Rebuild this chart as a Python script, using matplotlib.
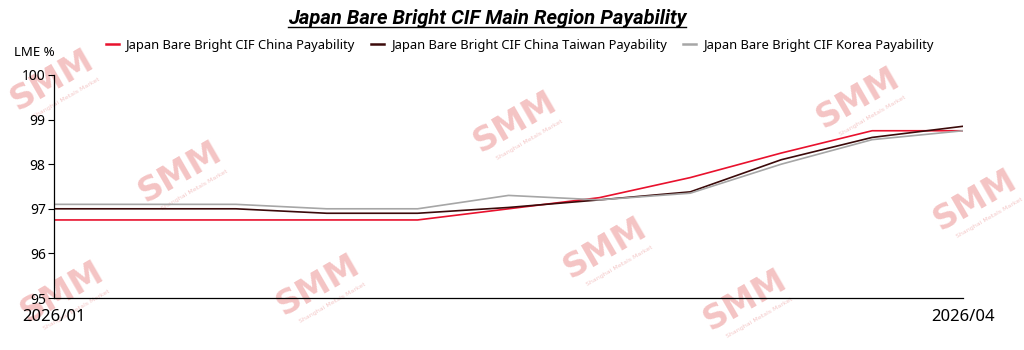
import numpy as np
import matplotlib
matplotlib.use("Agg")
import matplotlib.pyplot as plt
from matplotlib.lines import Line2D

# data (weekly points, first and last labelled)
x_idx = list(range(11))
tick_pos = [0, 10]
tick_labels = ["2026/01", "2026/04"]

china = [96.75, 96.75, 96.75, 96.75, 96.75, 97.0, 97.25, 97.7, 98.25, 98.75, 98.75]
taiwan = [97.0, 97.0, 97.0, 96.9, 96.9, 97.03, 97.2, 97.38, 98.1, 98.6, 98.85]
korea = [97.1, 97.1, 97.1, 97.0, 97.0, 97.3, 97.2, 97.35, 98.0, 98.55, 98.75]

names = ["Japan Bare Bright CIF China Payability",
         "Japan Bare Bright CIF China Taiwan Payability",
         "Japan Bare Bright CIF Korea Payability"]
colors = ["#e8112d", "#3b0a0a", "#a6a6a6"]

plt.rcParams['font.family'] = ['Noto Sans', 'DejaVu Sans']

fig = plt.figure(figsize=(10.24, 3.5), dpi=100)
ax = fig.add_axes([54/1024, 52/350, 909/1024, 223/350])
ax.set_facecolor('none')

for series, name, c in zip([china, taiwan, korea], names, colors):
    ax.plot(x_idx, series, color=c, lw=1.2, label=name)

ax.set_xlim(0, 10)
ax.set_ylim(95, 100)
ax.set_yticks([95, 96, 97, 98, 99, 100])
ax.tick_params(axis='y', labelsize=10, length=4, width=0.8, pad=2)
ax.set_xticks(tick_pos)
ax.set_xticklabels(tick_labels, fontsize=12)
ax.tick_params(axis='x', length=0, pad=8)
for s in ['top', 'right']:
    ax.spines[s].set_visible(False)
ax.spines['left'].set_linewidth(0.9)
ax.spines['bottom'].set_linewidth(0.9)

fig.text(14/1024, 1 - 53/350, "LME %", fontsize=9.5, va='center', ha='left')

# title with underline
t = fig.text(487/1024, 1 - 19/350, "Japan Bare Bright CIF Main Region Payability",
             fontsize=14.5, fontweight='bold', fontstyle='italic', family='Roboto',
             ha='center', va='center')
fig.canvas.draw()
bb = t.get_window_extent().transformed(fig.transFigure.inverted())
fig.add_artist(Line2D([bb.x0, bb.x1], [bb.y0 + 0.004, bb.y0 + 0.004],
                      transform=fig.transFigure, color='black', lw=1))

leg = fig.legend(loc='center', bbox_to_anchor=(520/1024, 1 - 45/350), ncol=3,
                 frameon=False, fontsize=9.3, handlelength=1.0, handletextpad=0.6,
                 columnspacing=1.2)
for ln in leg.get_lines():
    ln.set_linewidth(1.8)

# SMM watermarks
marks = [(52, 80), (180, 172), (318, 285), (515, 122), (605, 248),
         (858, 98), (975, 200), (745, 300), (62, 292)]
for mx, my in marks:
    fx, fy = mx/1024, 1 - my/350
    fig.text(fx, fy, "SMM", fontsize=24, fontweight='heavy', family='DejaVu Sans',
             color='#f4c4c4', rotation=30, ha='center', va='center', zorder=-5)
    fig.text(fx + 0.014, fy - 0.05, "Shanghai Metals Market", fontsize=4.5,
             family='DejaVu Sans', color='#f4c8c8', rotation=30,
             ha='center', va='center', zorder=-5)

fig.savefig("out.png", dpi=100)
